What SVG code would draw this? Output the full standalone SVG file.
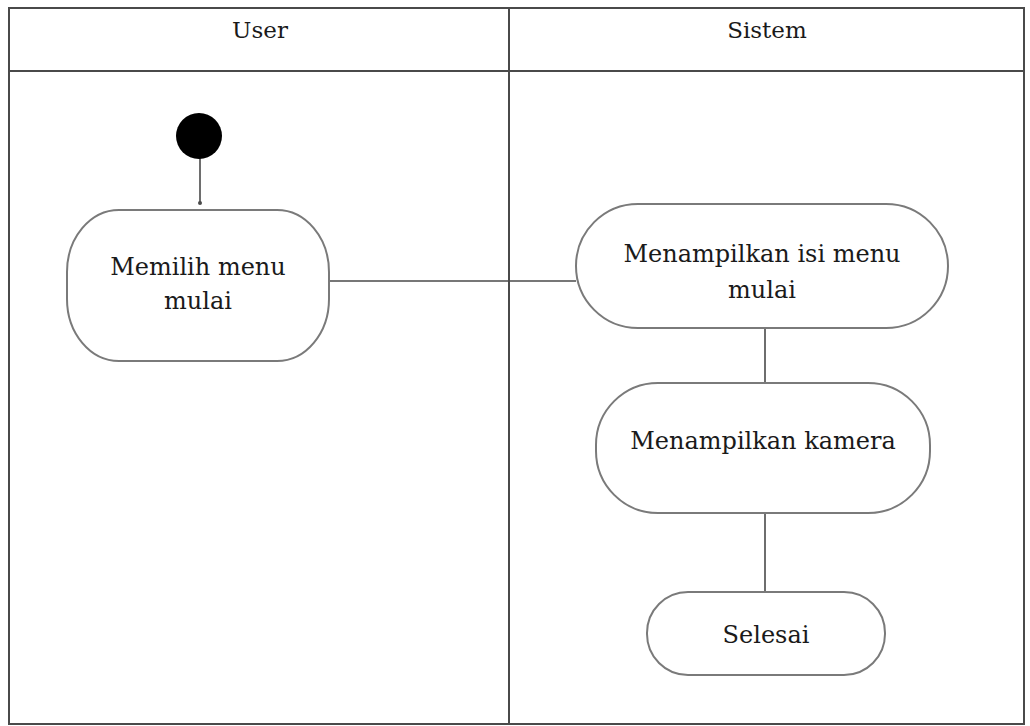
<svg xmlns="http://www.w3.org/2000/svg" width="1030" height="726" viewBox="0 0 1030 726">
  <style>
    .frame { fill: none; stroke: #4a4a4a; stroke-width: 2; }
    .node { fill: #ffffff; stroke: #7a7a7a; stroke-width: 2; }
    .edge { fill: none; stroke: #4a4a4a; stroke-width: 1.6; }
    text { font-family: "DejaVu Serif", serif; fill: #1a1a1a; text-anchor: middle; }
    .lbl { font-size: 24px; }
    .head { font-size: 23px; }
  </style>
  <rect width="1030" height="726" fill="#ffffff"/>

  <!-- swimlane frame -->
  <g id="lanes">
    <rect class="frame" x="9" y="8" width="1015" height="716"/>
    <line class="frame" x1="9" y1="71" x2="1024" y2="71"/>
    <line class="frame" x1="509" y1="8" x2="509" y2="724"/>
    <text class="head" x="260" y="38">User</text>
    <text class="head" x="767" y="38">Sistem</text>
  </g>

  <!-- connectors -->
  <g id="connectors">
    <line class="edge" x1="200" y1="158" x2="200" y2="203"/>
    <circle cx="200" cy="203" r="2" fill="#4a4a4a"/>
    <line class="edge" x1="329" y1="281" x2="576" y2="281"/>
    <line class="edge" x1="765" y1="328" x2="765" y2="383"/>
    <line class="edge" x1="765" y1="513" x2="765" y2="592"/>
  </g>

  <g id="start">
    <circle cx="199" cy="136" r="23" fill="#000000"/>
  </g>

  <g id="memilih-menu">
    <rect class="node" x="67" y="210" width="262" height="151" rx="52" ry="62"/>
    <text class="lbl" x="198" y="275">Memilih menu</text>
    <text class="lbl" x="198" y="309">mulai</text>
  </g>

  <g id="menampilkan-isi">
    <rect class="node" x="576" y="204" width="372" height="124" rx="62" ry="62"/>
    <text class="lbl" x="762" y="262">Menampilkan isi menu</text>
    <text class="lbl" x="762" y="298">mulai</text>
  </g>

  <g id="menampilkan-kamera">
    <rect class="node" x="596" y="383" width="334" height="130" rx="62" ry="62"/>
    <text class="lbl" x="763" y="449">Menampilkan kamera</text>
  </g>

  <g id="selesai">
    <rect class="node" x="647" y="592" width="238" height="83" rx="41" ry="41"/>
    <text class="lbl" x="766" y="643">Selesai</text>
  </g>
</svg>
